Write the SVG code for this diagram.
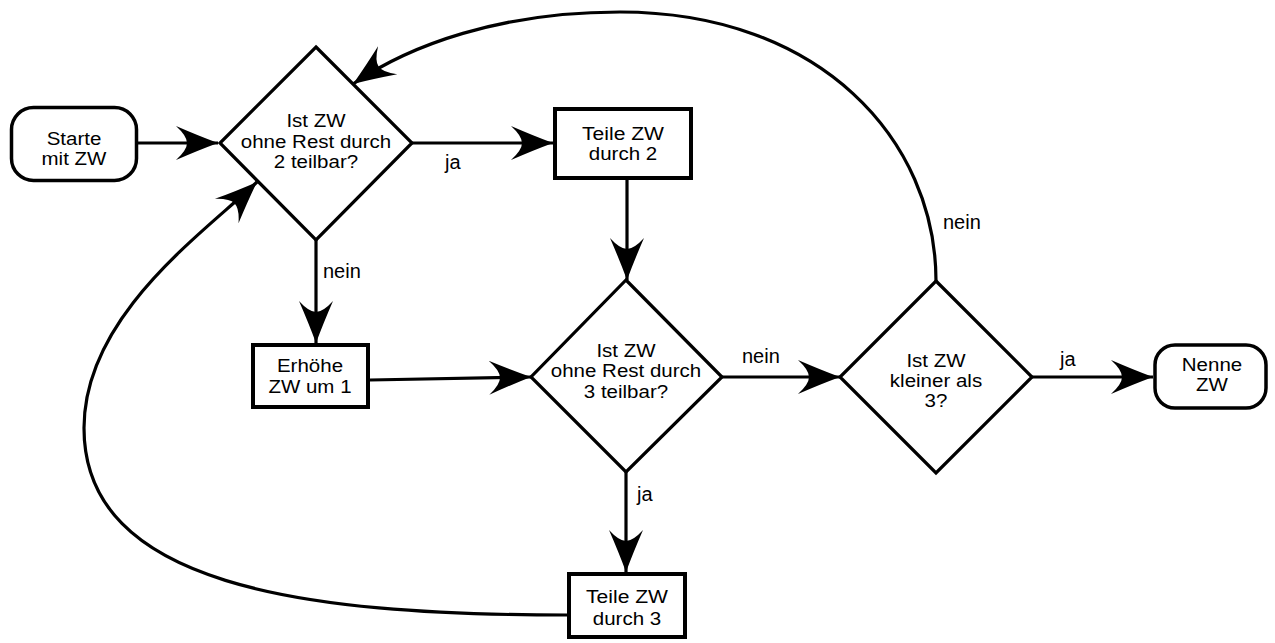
<svg xmlns="http://www.w3.org/2000/svg" width="1275" height="643" viewBox="0 0 1275 643">
  <defs>
    <marker id="ah" viewBox="-44 -19 46 38" refX="0" refY="0" markerWidth="46" markerHeight="38" markerUnits="userSpaceOnUse" orient="auto">
      <path d="M0,0 Q-19,-7 -42,-17 Q-31,-7 -31,0 Q-31,7 -42,17 Q-19,7 0,0 Z" fill="#000"/>
    </marker>
    <style>
      .t { font-family: "Liberation Sans", Arial, sans-serif; font-size: 17.5px; fill: #000; text-anchor: middle; }
      .l { font-family: "Liberation Sans", Arial, sans-serif; font-size: 20px; fill: #000; }
      .box { fill: #fff; stroke: #000; stroke-width: 4; }
      .rbox { fill: #fff; stroke: #000; stroke-width: 3.5; }
      .dia { fill: #fff; stroke: #000; stroke-width: 3.2; stroke-linejoin: miter; }
      .c { fill: none; stroke: #000; stroke-width: 3.2; marker-end: url(#ah); }
    </style>
  </defs>
  <rect width="1275" height="643" fill="#fff"/>

  <g id="connectors">
    <path class="c" d="M138,143 L218,143"/>
    <path class="c" d="M412,143 L553,143"/>
    <path class="c" d="M316,240 L316,343"/>
    <path class="c" d="M627,180 L627,280"/>
    <path class="c" d="M370,380 L531,377"/>
    <path class="c" d="M722,377 L840,377"/>
    <path class="c" d="M1032,377 L1153,377"/>
    <path class="c" d="M626,472 L626,572"/>
    <path class="c" d="M567,615 C300,615 84,585 84,428 C84,315 205,232 257,182"/>
    <path class="c" d="M936,281 C936,140 820,12 620,12 C500,12 410,45 353,84"/>
    <text class="l" x="445" y="169">ja</text>
    <text class="l" x="323" y="278">nein</text>
    <text class="l" x="742" y="363">nein</text>
    <text class="l" x="1060" y="366">ja</text>
    <text class="l" x="637" y="501">ja</text>
    <text class="l" x="943" y="229">nein</text>
  </g>

  <g id="start">
    <rect class="rbox" x="11.5" y="107.5" width="125" height="73" rx="22"/>
    <text class="t" x="74" y="145" textLength="54.7" lengthAdjust="spacingAndGlyphs">Starte</text>
    <text class="t" x="74" y="165" textLength="64.9" lengthAdjust="spacingAndGlyphs">mit ZW</text>
  </g>

  <g id="d1">
    <polygon class="dia" points="316,47 412,143 316,240 220,143"/>
    <text class="t" x="316" y="127" textLength="59.2" lengthAdjust="spacingAndGlyphs">Ist ZW</text>
    <text class="t" x="316" y="148" textLength="150.4" lengthAdjust="spacingAndGlyphs">ohne Rest durch</text>
    <text class="t" x="316" y="168" textLength="84.3" lengthAdjust="spacingAndGlyphs">2 teilbar?</text>
  </g>

  <g id="teile2">
    <rect class="box" x="555" y="109" width="136" height="69"/>
    <text class="t" x="623" y="140" textLength="82" lengthAdjust="spacingAndGlyphs">Teile ZW</text>
    <text class="t" x="623" y="160" textLength="68.4" lengthAdjust="spacingAndGlyphs">durch 2</text>
  </g>

  <g id="erhoehe">
    <rect class="box" x="253" y="345" width="115" height="62"/>
    <text class="t" x="310" y="372" textLength="66.1" lengthAdjust="spacingAndGlyphs">Erhöhe</text>
    <text class="t" x="310" y="393" textLength="83.1" lengthAdjust="spacingAndGlyphs">ZW um 1</text>
  </g>

  <g id="d2">
    <polygon class="dia" points="626,280 722,377 626,472 531,377"/>
    <text class="t" x="626" y="357" textLength="59.2" lengthAdjust="spacingAndGlyphs">Ist ZW</text>
    <text class="t" x="626" y="377" textLength="150.4" lengthAdjust="spacingAndGlyphs">ohne Rest durch</text>
    <text class="t" x="626" y="398" textLength="84.3" lengthAdjust="spacingAndGlyphs">3 teilbar?</text>
  </g>

  <g id="d3">
    <polygon class="dia" points="936,281 1032,377 936,473 840,377"/>
    <text class="t" x="936" y="367" textLength="59.2" lengthAdjust="spacingAndGlyphs">Ist ZW</text>
    <text class="t" x="936" y="387" textLength="92.3" lengthAdjust="spacingAndGlyphs">kleiner als</text>
    <text class="t" x="936" y="407" textLength="22.8" lengthAdjust="spacingAndGlyphs">3?</text>
  </g>

  <g id="nenne">
    <rect class="rbox" x="1155" y="345" width="111" height="63" rx="20"/>
    <text class="t" x="1212" y="371" textLength="60.4" lengthAdjust="spacingAndGlyphs">Nenne</text>
    <text class="t" x="1212" y="391" textLength="31.9" lengthAdjust="spacingAndGlyphs">ZW</text>
  </g>

  <g id="teile3">
    <rect class="box" x="569" y="574" width="116" height="63"/>
    <text class="t" x="627" y="603" textLength="82" lengthAdjust="spacingAndGlyphs">Teile ZW</text>
    <text class="t" x="627" y="625" textLength="68.4" lengthAdjust="spacingAndGlyphs">durch 3</text>
  </g>
</svg>
